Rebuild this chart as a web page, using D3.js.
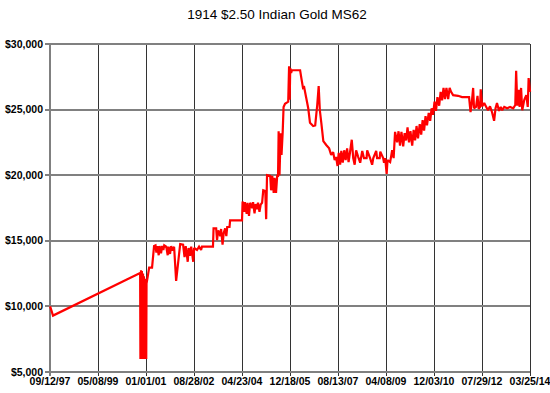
<!DOCTYPE html>
<html>
<head>
<meta charset="utf-8">
<script src="https://cdn.jsdelivr.net/npm/d3@7"></script>
<style>
  body { margin: 0; background: #fff; }
  svg { display: block; }
</style>
</head>
<body>
<script>
// chart title and axis labels
var title = "1914 $2.50 Indian Gold MS62";
var xTickLabels = ["09/12/97", "05/08/99", "01/01/01", "08/28/02", "04/23/04", "12/18/05",
                   "08/13/07", "04/08/09", "12/03/10", "07/29/12", "03/25/14"];
var yTickValues = [5000, 10000, 15000, 20000, 25000, 30000];

// price history, dates as fractional years
var years = [
  1997.70, 1997.80, 2000.80,
  2000.81, 2000.83, 2000.85, 2000.86, 2000.88, 2000.90, 2000.92, 2000.93, 2000.95, 2000.97, 2000.99, 2001.00, 2001.01, 2001.02,
  2001.06, 2001.11, 2001.21, 2001.28, 2001.33, 2001.36, 2001.39, 2001.44, 2001.47, 2001.52, 2001.56, 2001.60, 2001.63,
  2001.70, 2001.75, 2001.78, 2001.83, 2001.87, 2001.92, 2001.97,
  2002.04, 2002.18, 2002.28, 2002.33, 2002.37, 2002.44, 2002.47, 2002.52, 2002.56, 2002.63, 2002.66, 2002.76, 2002.83, 2002.90, 2002.93,
  2003.31, 2003.33, 2003.42, 2003.45, 2003.49, 2003.56, 2003.59, 2003.64, 2003.68, 2003.73, 2003.77, 2003.80, 2003.88, 2003.90,
  2004.31, 2004.33, 2004.38, 2004.41, 2004.47, 2004.50, 2004.55, 2004.59, 2004.66, 2004.69, 2004.74, 2004.78, 2004.83, 2004.86, 2004.91, 2004.95, 2005.00,
  2005.04, 2005.11, 2005.14, 2005.17, 2005.28, 2005.31, 2005.35, 2005.40, 2005.43, 2005.48, 2005.52, 2005.55,
  2005.57, 2005.60, 2005.64, 2005.67, 2005.71, 2005.74, 2005.79, 2005.90, 2005.93, 2005.95, 2005.97, 2006.00, 2006.03, 2006.31,
  2006.36, 2006.41, 2006.45, 2006.52, 2006.59, 2006.65, 2006.76, 2006.83, 2006.90, 2006.95, 2006.99, 2007.04, 2007.11, 2007.21, 2007.31, 2007.38, 2007.45,
  2007.50, 2007.55, 2007.60, 2007.64, 2007.69, 2007.73, 2007.78, 2007.83, 2007.88, 2007.93, 2007.98, 2008.03, 2008.09, 2008.14, 2008.19,
  2008.24, 2008.31, 2008.38, 2008.45, 2008.51, 2008.60, 2008.62, 2008.72, 2008.79, 2008.83, 2008.93, 2008.96, 2009.05, 2009.07, 2009.17, 2009.20, 2009.24, 2009.29, 2009.32,
  2009.41, 2009.48, 2009.53, 2009.58, 2009.65, 2009.70, 2009.75, 2009.80, 2009.86, 2009.91, 2009.96, 2010.01, 2010.06, 2010.11, 2010.17,
  2010.22, 2010.27, 2010.32, 2010.37, 2010.43, 2010.48, 2010.53, 2010.58, 2010.63, 2010.68, 2010.74, 2010.79, 2010.84, 2010.89, 2010.94,
  2010.99, 2011.04, 2011.10, 2011.15, 2011.20, 2011.25, 2011.30, 2011.35, 2011.41, 2011.46, 2011.51, 2011.58, 2011.75, 2011.89, 2012.03,
  2012.13, 2012.18, 2012.22, 2012.27, 2012.30, 2012.37, 2012.42, 2012.46, 2012.51, 2012.53, 2012.58, 2012.65, 2012.72, 2012.78, 2012.85,
  2012.92, 2012.99, 2013.04, 2013.09, 2013.16, 2013.22, 2013.27, 2013.34, 2013.44, 2013.54, 2013.65, 2013.72, 2013.75, 2013.79, 2013.84,
  2013.87, 2013.92, 2013.96, 2014.03, 2014.10, 2014.15, 2014.18, 2014.23
];
var prices = [
  10000, 9300, 12550,
  6000, 12750, 6000, 12700, 6000, 12500, 6000, 12300, 6000, 12100, 6000, 11800, 6000, 11750,
  12250, 12950, 12950, 14600, 14650, 14100, 14600, 13900, 14600, 14050, 14600, 14300, 14650,
  14550, 13900, 14550, 14000, 14600, 14250, 14550,
  11950, 14750, 14700, 13750, 14600, 13400, 14450, 13850, 14550, 13400, 14450, 14300, 14550, 14300, 14550,
  14550, 15950, 15950, 15050, 15800, 15350, 15900, 14700, 15600, 15950, 15350, 16050, 16050, 16550,
  16550, 18000, 17200, 17950, 17050, 17900, 16900, 17900, 17500, 17950, 17100, 17800, 17400, 17900, 17200, 17750, 17900,
  18850, 18800, 16650, 20000, 19950, 18850, 19950, 18650, 19800, 18650, 19950, 19950,
  23350, 20000, 23200, 21550, 23300, 25200, 25450, 25600, 28300, 25750, 28150, 27800, 28000, 28000,
  27300, 26650, 26700, 25900, 25100, 24000, 23750, 23800, 25350, 26800, 24950, 24000, 22600, 22300, 22050, 21550, 21750,
  21150, 21400, 20700, 21700, 20800, 21850, 20950, 21900, 21150, 22050, 21000, 21750, 22700, 21300, 20800,
  21900, 21400, 20950, 21850, 21300, 21300, 21900, 21300, 20800, 21300, 21850, 21300, 21300, 21800, 21300, 20950, 21300, 20100, 21150,
  21000, 21900, 21300, 23300, 22500, 23350, 22250, 23300, 22200, 23200, 22650, 23650, 22500, 23350, 22250,
  23450, 22650, 23750, 22800, 23900, 23100, 24200, 23400, 24500, 23800, 24750, 24150, 25100, 24600, 25600,
  24900, 25950, 25300, 26350, 25700, 26650, 25800, 26650, 25800, 26650, 26350, 26100, 26050, 25950, 25950,
  25950, 24800, 25450, 26650, 25100, 25200, 26050, 25050, 25200, 26550, 25250, 25500, 25200, 24950, 25250,
  24800, 24150, 25100, 25500, 24900, 25200, 24950, 25200, 25100, 25200, 25100, 25350, 27950, 25300, 26500,
  25200, 26650, 24950, 25750, 26100, 25200, 27400, 26350
];

function yearToDate(yr) {
  var Y = Math.floor(yr);
  var start = new Date(Y, 0, 1), end = new Date(Y + 1, 0, 1);
  return new Date(+start + (yr - Y) * (end - start));
}

var data = years.map(function(yr, i) { return { date: yearToDate(yr), price: prices[i] }; });

var w = 550, h = 393;
var plotLeft = 50, plotRight = 530, plotTop = 44, plotBottom = 372;

var parseTick = d3.timeParse("%m/%d/%y");
var tickDates = xTickLabels.map(parseTick);

var x = d3.scaleTime()
    .domain([tickDates[0], tickDates[tickDates.length - 1]])
    .range([plotLeft, plotRight]);
var y = d3.scaleLinear()
    .domain([5000, 30000])
    .range([plotBottom, plotTop]);

var svg = d3.select("body").append("svg")
    .attr("width", w)
    .attr("height", h);

svg.append("text")
    .attr("x", 277)
    .attr("y", 19)
    .attr("text-anchor", "middle")
    .attr("font-family", "Arial, 'Liberation Sans', sans-serif")
    .attr("font-size", "13.5px")
    .attr("fill", "#000")
    .text(title);

// vertical grid lines (dark, thin)
svg.append("g").selectAll("line")
    .data(tickDates)
    .enter().append("line")
    .attr("x1", function(d) { return Math.round(x(d)) + 0.5; })
    .attr("x2", function(d) { return Math.round(x(d)) + 0.5; })
    .attr("y1", plotTop)
    .attr("y2", plotBottom + 4)
    .attr("stroke", "#333")
    .attr("stroke-width", 1);

// horizontal grid lines (gray, heavier)
svg.append("g").selectAll("line")
    .data(yTickValues)
    .enter().append("line")
    .attr("x1", plotLeft - 5)
    .attr("x2", plotRight)
    .attr("y1", function(d) { return Math.round(y(d)); })
    .attr("y2", function(d) { return Math.round(y(d)); })
    .attr("stroke", "#808080")
    .attr("stroke-width", 2);

// left axis line
svg.append("line")
    .attr("x1", plotLeft).attr("x2", plotLeft)
    .attr("y1", plotTop).attr("y2", plotBottom + 4)
    .attr("stroke", "#808080")
    .attr("stroke-width", 2);

// y labels
svg.append("g").selectAll("text")
    .data(yTickValues)
    .enter().append("text")
    .attr("x", plotLeft - 7)
    .attr("y", function(d) { return y(d) + 3.5; })
    .attr("text-anchor", "end")
    .attr("font-family", "Arial, 'Liberation Sans', sans-serif")
    .attr("font-size", "10.5px")
    .attr("font-weight", "bold")
    .attr("fill", "#000")
    .text(d3.format("$,"));

// x labels
svg.append("g").selectAll("text")
    .data(tickDates)
    .enter().append("text")
    .attr("x", function(d) { return x(d); })
    .attr("y", plotBottom + 13)
    .attr("text-anchor", "middle")
    .attr("font-family", "Arial, 'Liberation Sans', sans-serif")
    .attr("font-size", "10.5px")
    .attr("font-weight", "bold")
    .attr("fill", "#000")
    .text(function(d, i) { return xTickLabels[i]; });

var line = d3.line()
    .x(function(d) { return x(d.date); })
    .y(function(d) { return y(d.price); });

svg.append("path")
    .datum(data)
    .attr("d", line)
    .attr("fill", "none")
    .attr("stroke", "#ff0000")
    .attr("stroke-width", 2.2)
    .attr("stroke-linejoin", "miter")
    .attr("stroke-miterlimit", 2);
</script>
</body>
</html>
